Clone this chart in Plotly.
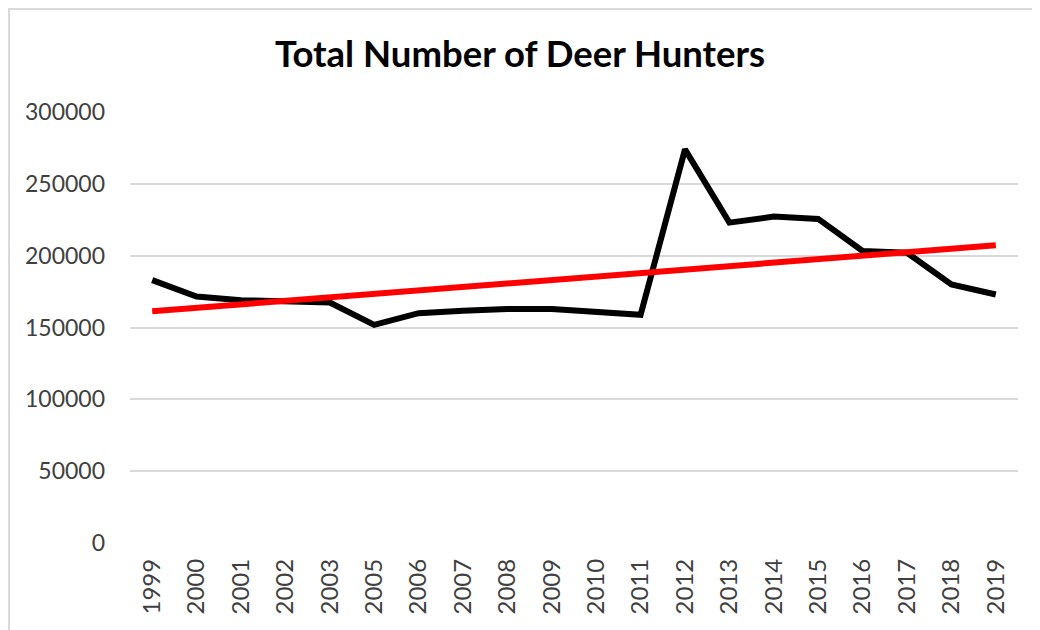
import numpy as np
import plotly.graph_objects as go

years = ["1999", "2000", "2001", "2002", "2003", "2005", "2006", "2007", "2008", "2009",
         "2010", "2011", "2012", "2013", "2014", "2015", "2016", "2017", "2018", "2019"]
hunters = [183000, 171500, 169000, 168000, 167400, 151800, 160000, 161600, 162800, 162800,
           160700, 158800, 274000, 223000, 227200, 225600, 203300, 202000, 180000, 173000]
y_ticks = [0, 50000, 100000, 150000, 200000, 250000, 300000]

# Linear trendline (least squares over category index, as Excel does)
idx = np.arange(1, len(hunters) + 1)
slope, intercept = np.polyfit(idx, hunters, 1)
trend = slope * idx + intercept

OFF = 8  # page body margin
W, H = 1040, 630
L, R, T, B = 130 - OFF, 22 + OFF, 112 - OFF, 87 + OFF
pw, ph = W - L - R, H - T - B

def fx(p):
    # figure pixel -> paper x
    return (p - L) / pw

def fy(p):
    # figure pixel -> paper y
    return (H - B - p) / ph

border = dict(color="#d9d9d9", width=2)

fig = go.Figure()
fig.add_trace(go.Scatter(x=years, y=hunters, mode="lines",
                         line=dict(color="black", width=6), name="Hunters"))
fig.add_trace(go.Scatter(x=years, y=trend, mode="lines",
                         line=dict(color="#ff0000", width=6), name="Linear"))

fig.update_layout(
    width=W, height=H,
    margin=dict(l=L, r=R, t=T, b=B),
    paper_bgcolor="white", plot_bgcolor="white",
    showlegend=False,
    font=dict(family="Lato", color="#404040"),
    title=dict(text="<b>Total Number of Deer Hunters</b>",
               xref="container", x=(520 - OFF) / W, xanchor="center",
               yref="container", y=1 - (54 - OFF) / H, yanchor="middle",
               font=dict(family="Lato", size=36.5, color="black")),
    xaxis=dict(type="category", tickangle=-90, showgrid=False, showline=False,
               ticks="", tickfont=dict(size=24, color="#404040"), ticklabelstandoff=10,
               range=[-0.5, len(years) - 0.5], zeroline=False),
    yaxis=dict(range=[0, 300000], tickvals=y_ticks, ticktext=[str(v) for v in y_ticks],
               showgrid=True, gridcolor="#d9d9d9", gridwidth=1.5, zeroline=False,
               showline=False, ticks="", ticklabelstandoff=24,
               tickfont=dict(size=23, color="#404040")),
    shapes=[
        dict(type="line", xref="paper", yref="paper",
             x0=fx(0), x1=fx(W), y0=fy(1), y1=fy(1),
             line=border, layer="below"),
        dict(type="line", xref="paper", yref="paper",
             x0=fx(1), x1=fx(1), y0=fy(0), y1=fy(H),
             line=border, layer="below"),
    ],
)

fig.write_html("out.html")
